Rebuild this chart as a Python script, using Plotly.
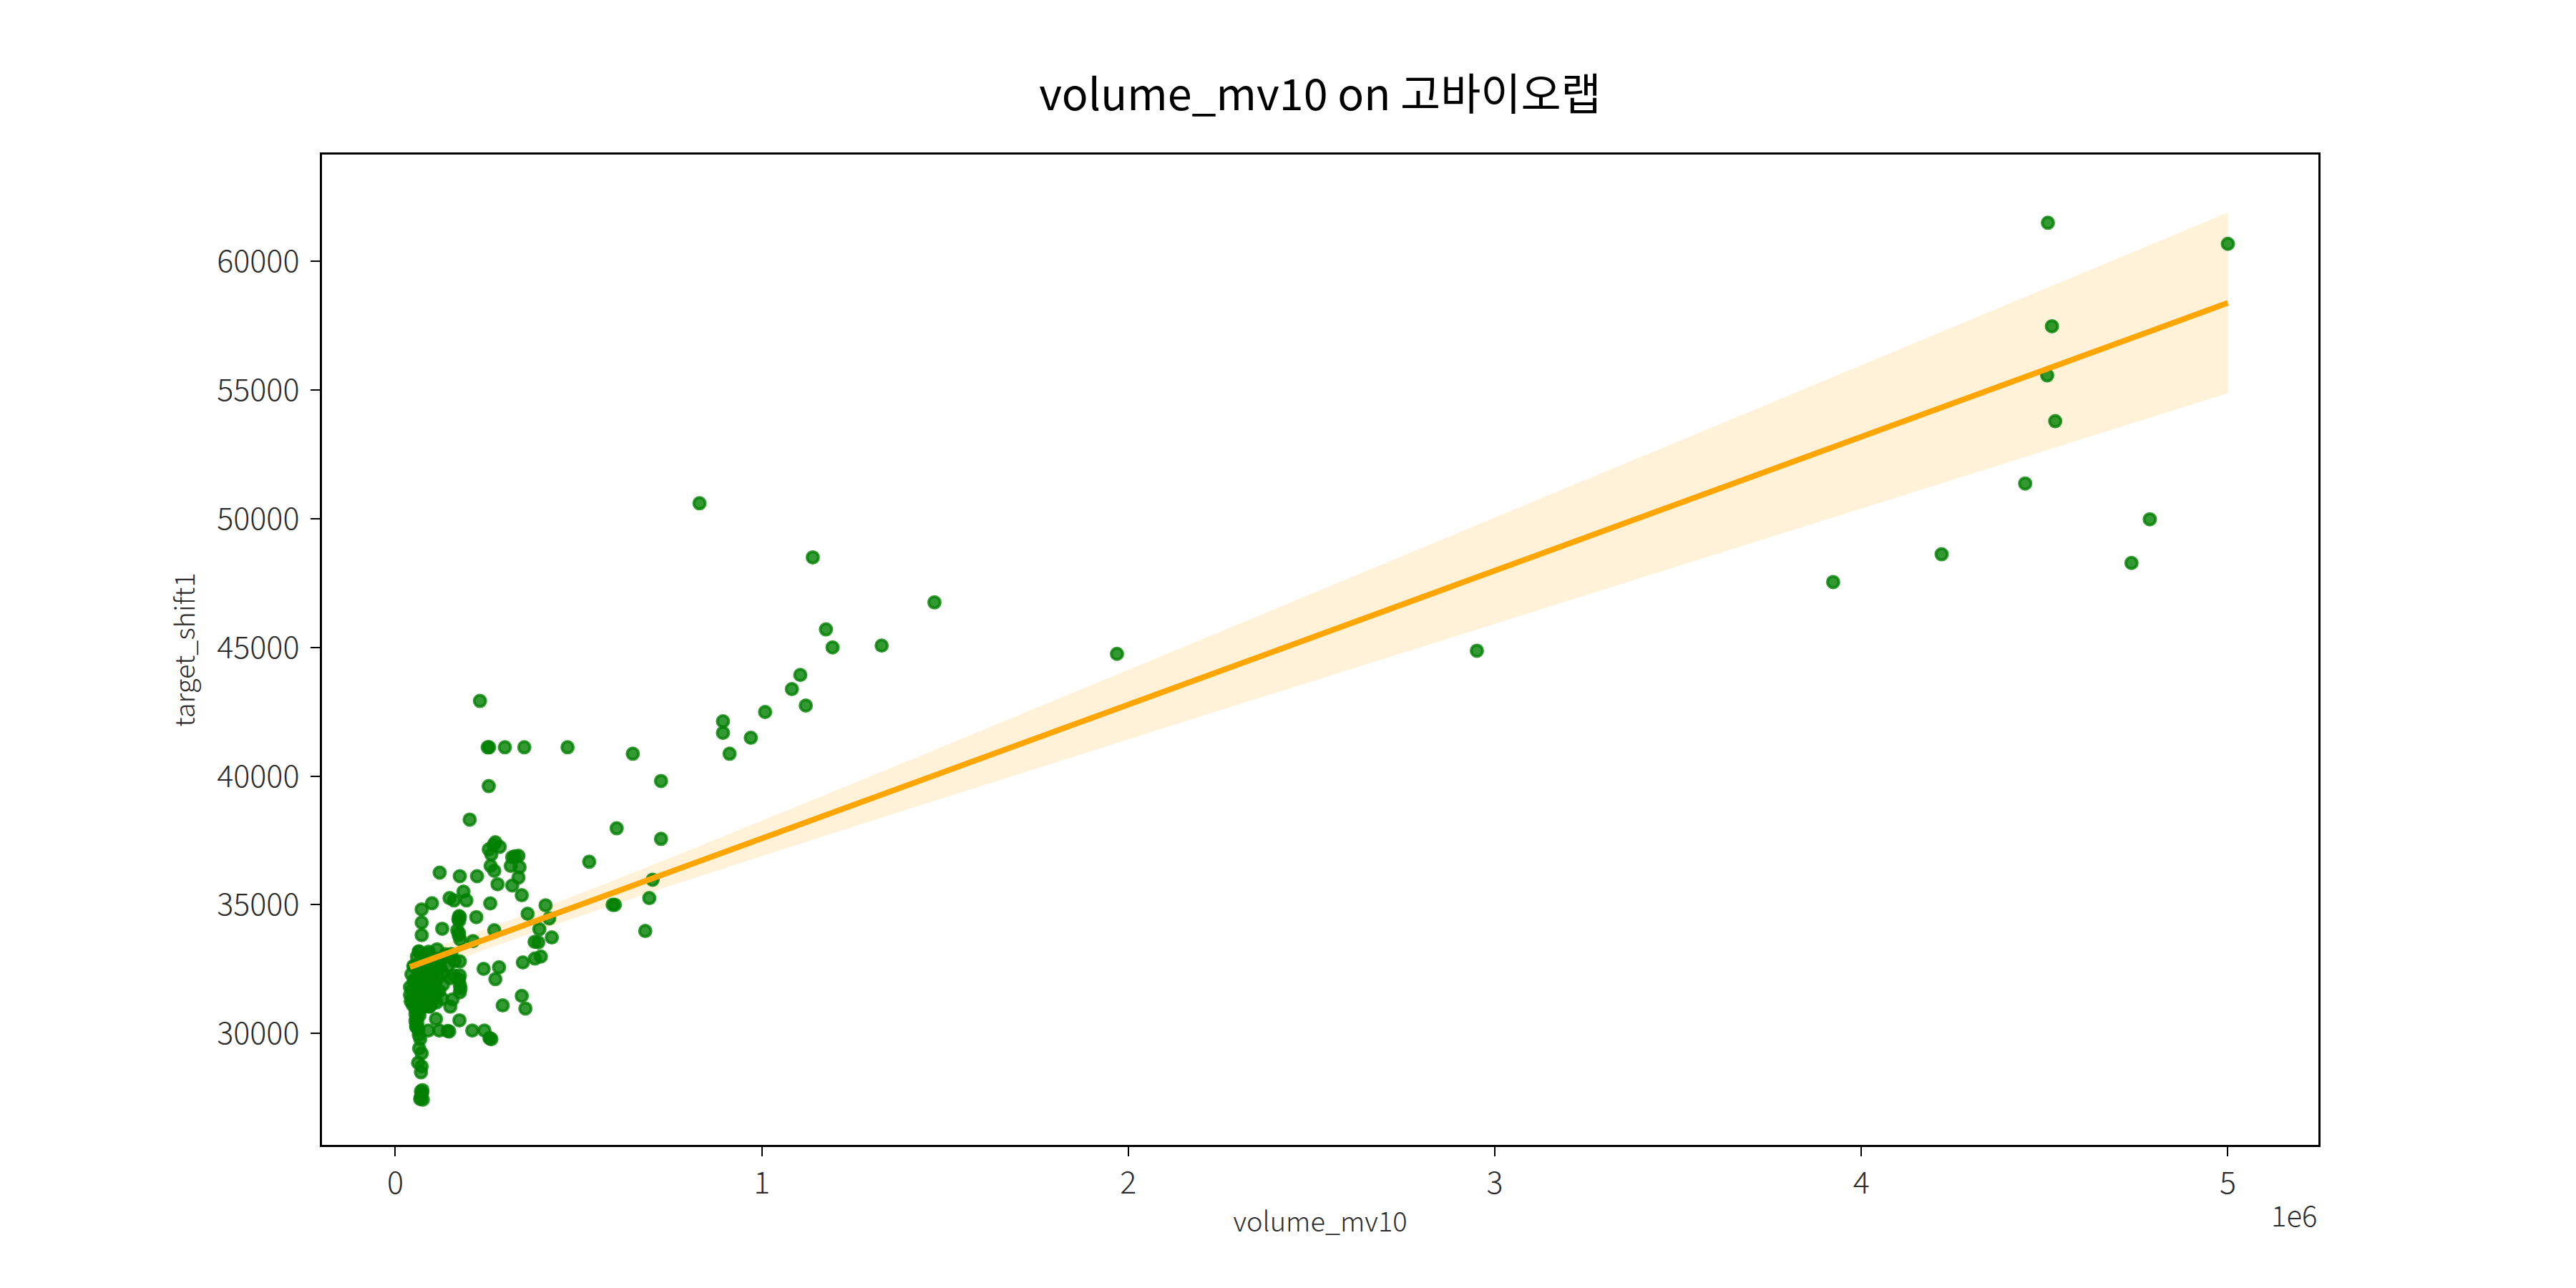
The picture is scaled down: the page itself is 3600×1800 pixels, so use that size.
import numpy as np
import plotly.graph_objects as go

# volume_mv10 (raw) vs target_shift1
volume_mv10 = [
    830000, 1139000, 1471000, 1175000, 1193000, 1327000, 1969000, 2951000, 3923000, 4219000,
    4447000, 4509000, 4520000, 4507000, 4529000, 4737000, 4787000, 5000000,
    894000, 894000, 912000, 970000, 1009000, 1082000, 1105000, 1120000, 725000, 725000,
    648000, 604000, 529000, 702000, 693000, 682000, 593000, 599000,
    231000, 252000, 256000, 299000, 352000, 470000, 255000, 203000, 273000, 255000,
    262000, 285000, 268000, 260000, 270000, 279000, 326000, 336000, 319000, 315000,
    339000, 336000, 319000, 345000,
    121000, 176000, 223000, 186000, 148000, 160000, 194000, 100000, 72000, 259000,
    410000, 361000, 420000, 393000, 427000, 390000, 380000, 397000, 381000, 348000,
    72000, 72000, 128000, 174000, 176000, 174000, 169000, 173000, 221000, 270000,
    212000, 64000, 176000, 176000, 176000, 176000, 156000, 150000, 241000, 283000,
    273000, 345000, 293000, 355000,
    111000, 175000, 90000, 120000, 143000, 147000, 210000, 243000, 259000, 262000,
    55000, 55000, 57000, 68000, 65000, 72000, 62000, 72000, 70000, 70000,
    75000, 68000, 73000,
    59000, 46000, 52000, 72000, 78000, 104000, 111000, 130000, 143000, 124000,
    137000, 91000, 104000, 150000, 72000, 48000, 98000, 46000, 40000, 85000,
    65000, 91000, 117000, 143000, 162000, 59000, 49000, 153000, 91000, 114000,
    65000, 91000, 160000, 130000, 60000, 58000,
    # points hidden in the dark overlapping blobs near the origin
    40000, 44000, 48000, 52000, 56000, 60000, 64000, 68000, 72000, 76000,
    80000, 84000, 88000, 92000, 96000, 100000, 104000, 108000, 112000, 116000,
    120000, 124000, 128000, 42000, 50000, 58000, 66000, 74000, 82000, 90000,
    98000, 106000, 114000, 62000, 78000, 94000,
    55000, 58000, 60000, 63000, 66000, 57000, 61000, 64000,
    69000, 72000, 74000,
    172000, 174000, 177000, 178000, 174000, 257000,
]
target_shift1 = [
    50600, 48500, 46750, 45700, 45000, 45070, 44750, 44870, 47540, 48620,
    51370, 61500, 57480, 55570, 53790, 48280, 49980, 60680,
    42130, 41680, 40870, 41490, 42490, 43380, 43930, 42740, 39810, 37560,
    40870, 37970, 36670, 35970, 35260, 33980, 35000, 35000,
    42920, 41120, 41120, 41120, 41120, 41120, 39610, 38310, 37430, 37150,
    36950, 37250, 37320, 36510, 36320, 35800, 36880, 36900, 36850, 36510,
    36460, 36060, 35750, 35370,
    36250, 36110, 36110, 35510, 35260, 35170, 35170, 35060, 34820, 35055,
    34980, 34650, 34470, 34050, 33730, 33540, 33560, 32990, 32910, 32760,
    34310, 33820, 34070, 34560, 34520, 34380, 34010, 33820, 34520, 34010,
    33590, 33190, 32800, 32250, 31880, 31600, 31320, 31040, 32510, 32570,
    32110, 31460, 31090, 30970,
    30560, 30510, 30115, 30115, 30096, 30080, 30115, 30115, 29800, 29780,
    30760, 30490, 30300, 29790, 29420, 29230, 28860, 28720, 28490, 27750,
    27430, 27450, 27700,
    32150, 31690, 31320, 31880, 31410, 32060, 31500, 32340, 32620, 32890,
    33080, 32340, 32710, 32150, 32520, 31410, 31130, 31230, 31500, 31230,
    32720, 32810, 32900, 32990, 32810, 32990, 32620, 33090, 33180, 33270,
    33170, 33080, 32250, 31900, 31000, 30900,
    31800, 32300, 31100, 32600, 31500, 32100, 30950, 31700, 32400, 31300,
    32000, 31550, 32250, 31050, 31850, 32450, 31400, 31950, 31200, 32150,
    31650, 32550, 31350, 31250, 32050, 31750, 32350, 31000, 31600, 32200,
    31450, 31900, 32500, 31150, 32700, 31050,
    30950, 30600, 30400, 30150, 30700, 30250, 30850, 29950,
    27500, 27650, 27800,
    34450, 33900, 33650, 31750, 32100, 29820,
]

x_ticks = [0, 1e6, 2e6, 3e6, 4e6, 5e6]
x_tick_text = ['0', '1', '2', '3', '4', '5']
y_ticks = [30000, 35000, 40000, 45000, 50000, 55000, 60000]

FONT = 'Noto Sans CJK KR'
PAGE_PAD = 8  # default body margin of the html page

x = np.array(volume_mv10, dtype=float)
y = np.array(target_shift1, dtype=float)

# linear fit + 95% band (HC3 sandwich covariance, close to a pairs bootstrap)
X = np.column_stack([np.ones_like(x), x])
xtx_inv = np.linalg.inv(X.T @ X)
beta = xtx_inv @ X.T @ y
resid = y - X @ beta
lev = np.einsum('ij,jk,ik->i', X, xtx_inv, X)
w = (resid / (1 - lev)) ** 2
cov = xtx_inv @ (X.T @ (X * w[:, None])) @ xtx_inv
grid = np.linspace(x.min(), x.max(), 100)
G = np.column_stack([np.ones_like(grid), grid])
fit = G @ beta
se = np.sqrt(np.einsum('ij,jk,ik->i', G, cov, G))
lo, hi = fit - 1.96 * se, fit + 1.96 * se

fig = go.Figure()
fig.add_trace(go.Scatter(x=np.concatenate([grid, grid[::-1]]),
                         y=np.concatenate([hi, lo[::-1]]),
                         fill='toself', mode='lines', line=dict(width=0),
                         fillcolor='rgba(255,165,0,0.15)', hoverinfo='skip'))
fig.add_trace(go.Scatter(x=x, y=y, mode='markers',
                         marker=dict(size=16, color='rgba(0,128,0,0.8)',
                                     line=dict(color='rgba(0,128,0,0.8)', width=4)),
                         name='data'))
fig.add_trace(go.Scatter(x=grid, y=fit, mode='lines',
                         line=dict(color='orange', width=8), name='fit'))

axis_common = dict(showline=True, linecolor='black', linewidth=3, mirror=True,
                   showgrid=False, zeroline=False, ticks='outside', ticklen=13,
                   tickwidth=2, tickcolor='black',
                   tickfont=dict(family=FONT, size=43, color='#2b2b2b', weight=300))
title_font = dict(family=FONT, size=38, color='#2b2b2b', weight=300)

fig.update_xaxes(range=[-0.2e6, 5.247e6], tickvals=x_ticks, ticktext=x_tick_text,
                 title=dict(text='volume_mv10', font=title_font, standoff=16),
                 **axis_common)
fig.update_yaxes(range=[25670, 64150], tickvals=y_ticks, tickformat='d',
                 ticklabelstandoff=7,
                 title=dict(text='target_shift1', font=title_font, standoff=20),
                 **axis_common)

fig.add_annotation(text='1e6', xref='paper', yref='paper', x=1, y=-0.07,
                   xanchor='right', yanchor='middle', showarrow=False,
                   font=dict(family=FONT, size=40, color='#2b2b2b', weight=300))

fig.update_layout(width=3600, height=1800,
                  margin=dict(l=450 - PAGE_PAD, r=360 + PAGE_PAD,
                              t=216 - PAGE_PAD, b=200 + PAGE_PAD),
                  paper_bgcolor='white', plot_bgcolor='white', showlegend=False,
                  title=dict(text='volume_mv10 on 고바이오랩', x=0.5, xref='paper', xanchor='center',
                             y=1 - (133 - PAGE_PAD) / 1800, yref='container', yanchor='middle',
                             font=dict(family=FONT, size=61, color='black')))

fig.write_html('out.html')
